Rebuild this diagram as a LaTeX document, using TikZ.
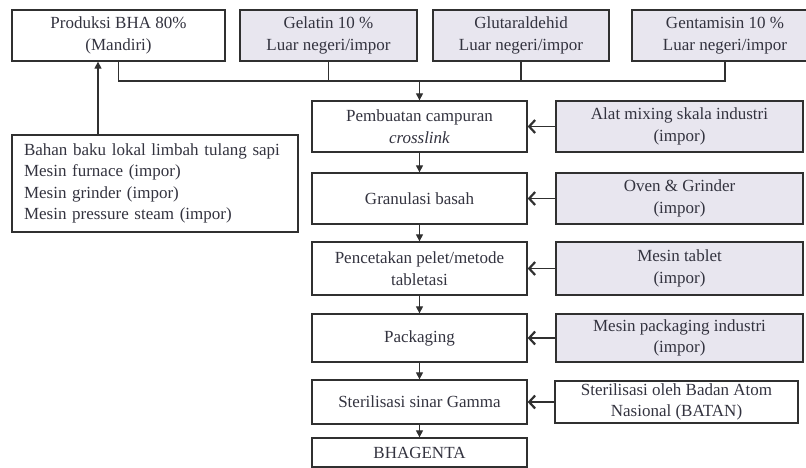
\documentclass[tikz,border=0pt]{standalone}
\usepackage{fontspec}
\setmainfont{Liberation Serif}
\usetikzlibrary{arrows.meta}
\definecolor{shade}{HTML}{E8E6EF}
\definecolor{ln}{HTML}{303030}
\definecolor{tx}{HTML}{33333F}
\begin{document}
\begin{tikzpicture}[x=1pt,y=-1pt,
  box/.style={draw=ln,line width=1.3pt,inner sep=0pt,align=center,text=tx,
    font=\fontsize{17}{21.5}\selectfont},
  imp/.style={box,fill=shade},
  conn/.style={draw=ln,line width=1.2pt},
  tri/.style={conn,-{Triangle[length=7pt,width=7pt]}},
  barb/.style={conn,-{Straight Barb[length=6pt,width=13pt,line width=2.2pt]}}]
\useasboundingbox (0,0) rectangle (806,468);
% top row
\node[box,minimum width=213pt,minimum height=51pt] (prod) at (118.5,35.5) {Produksi BHA 80\%\\(Mandiri)};
\node[imp,minimum width=177pt,minimum height=51pt] (gel) at (328.5,35.5) {Gelatin 10 \%\\Luar negeri/impor};
\node[imp,minimum width=176pt,minimum height=51pt] (glu) at (521,35.5) {Glutaraldehid\\Luar negeri/impor};
\node[imp,minimum width=186pt,minimum height=51pt] (gen) at (725,35.5) {Gentamisin 10 \%\\Luar negeri/impor};
% left box
\node[box,minimum width=286pt,minimum height=97pt,text width=262pt,align=left] (bahan) at (155,183.5)
  {Bahan baku lokal limbah tulang sapi\\Mesin furnace (impor)\\Mesin grinder (impor)\\Mesin pressure steam (impor)};
% center column
\node[box,minimum width=215pt,minimum height=51pt] (mix) at (419.5,126.5) {Pembuatan campuran\\\textit{crosslink}};
\node[box,minimum width=215pt,minimum height=51pt] (gran) at (419.5,198.5) {Granulasi basah};
\node[box,minimum width=215pt,minimum height=53pt] (cetak) at (419.5,268.5) {Pencetakan pelet/metode\\tabletasi};
\node[box,minimum width=215pt,minimum height=48pt] (pack) at (419.5,338) {Packaging};
\node[box,minimum width=215pt,minimum height=44pt] (steril) at (419.5,402) {Sterilisasi sinar Gamma};
\node[box,minimum width=215pt,minimum height=29pt] (bhag) at (419.5,452.5) {BHAGENTA};
% right column
\node[imp,minimum width=247pt,minimum height=51pt] (alat) at (679.5,126.5) {Alat mixing skala industri\\(impor)};
\node[imp,minimum width=247pt,minimum height=51pt] (oven) at (679.5,198.5) {Oven \& Grinder\\(impor)};
\node[imp,minimum width=247pt,minimum height=53pt] (tab) at (679.5,268.5) {Mesin tablet\\(impor)};
\node[imp,minimum width=247pt,minimum height=48pt] (mpack) at (679.5,338) {Mesin packaging industri\\(impor)};
\node[box,minimum width=243pt,minimum height=42pt] (batan) at (676.5,402) {Sterilisasi oleh Badan Atom\\Nasional (BATAN)};
% bus
\coordinate (bus) at (0,81);
\coordinate (upx) at (98,0);
\draw[conn] (prod.south) |- (bus -| gen.south) -- (gen.south);
\draw[conn] (gel.south) -- (gel.south |- bus);
\draw[conn] (glu.south) -- (glu.south |- bus);
\draw[tri] (mix.north |- bus) -- (mix.north);
\draw[tri] (bahan.north -| upx) -- (prod.south -| upx);
% chain
\draw[tri] (mix.south) -- (gran.north);
\draw[tri] (gran.south) -- (cetak.north);
\draw[tri] (cetak.south) -- (pack.north);
\draw[tri] (pack.south) -- (steril.north);
\draw[tri] (steril.south) -- (bhag.north);
% side inputs
\draw[barb] (alat.west) -- (mix.east);
\draw[barb] (oven.west) -- (gran.east);
\draw[barb] (tab.west) -- (cetak.east);
\draw[barb] (mpack.west) -- (pack.east);
\draw[barb] (batan.west) -- (steril.east);
\end{tikzpicture}
\end{document}
